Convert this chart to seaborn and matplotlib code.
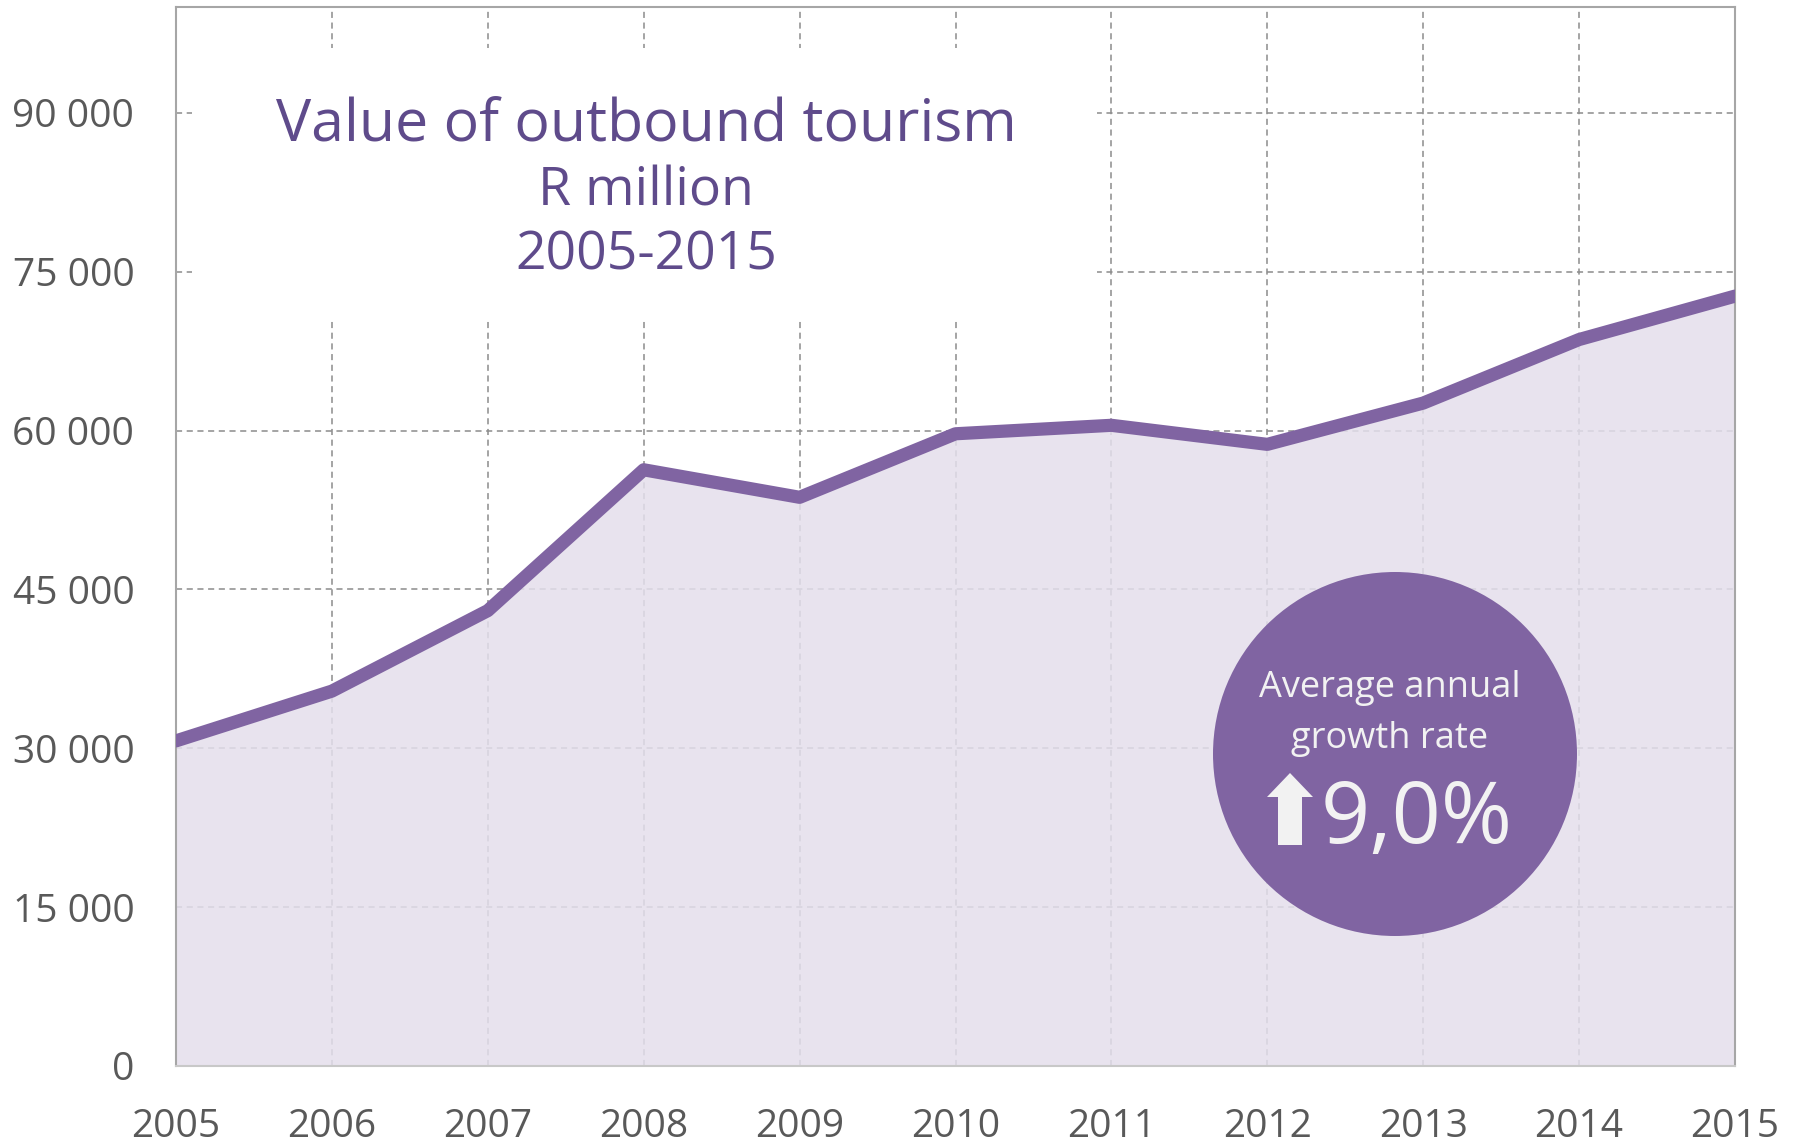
import pandas as pd
import numpy as np
import matplotlib.pyplot as plt
import matplotlib.patches as mpatches
import seaborn as sns

years = [2005, 2006, 2007, 2008, 2009, 2010, 2011, 2012, 2013, 2014, 2015]
values = [30700, 35400, 43000, 56300, 53700, 59700, 60500, 58700, 62600, 68600, 72700]
y_ticks = [0, 15000, 30000, 45000, 60000, 75000, 90000]
y_labels = ['0', '15 000', '30 000', '45 000', '60 000', '75 000', '90 000']
title_lines = ['Value of outbound tourism', 'R million', '2005-2015']
badge_text = ['Average annual', 'growth rate']
badge_value = '9,0%'

LINE = '#8064A2'
FILL = '#E4DFEC'
TITLE = '#5F4B8B'
TICK = '#595959'
W, H = 1804, 1146

df = pd.DataFrame({'year': years, 'value': values})

sns.set_style("white")
plt.rcParams['font.family'] = ['Open Sans', 'DejaVu Sans']

fig = plt.figure(figsize=(W / 100, H / 100), dpi=100)
# axes box in pixels: left 176, right 1735, top 7, bottom 1066
ax = fig.add_axes([176 / W, 1 - 1066 / H, (1735 - 176) / W, (1066 - 7) / H])

ax.fill_between(df['year'], df['value'], 0, color=FILL, alpha=0.85, zorder=2, lw=0)
sns.lineplot(data=df, x='year', y='value', ax=ax, color=LINE, lw=9.5, zorder=4)

ax.set_xlim(2005, 2015)
ax.set_ylim(0, 100000)
ax.set_xticks(years)
ax.set_yticks(y_ticks)
ax.set_yticklabels(y_labels)
ax.set_xlabel('')
ax.set_ylabel('')
ax.grid(True, color='#8C8C8C', ls=(0, (4, 3)), lw=1.1, zorder=1)
ax.set_axisbelow(True)
ax.tick_params(length=0, labelsize=28, colors=TICK)
ax.tick_params(axis='x', pad=30)
ax.tick_params(axis='y', pad=30)

for side in ['left', 'top', 'right']:
    ax.spines[side].set_color('#A6A6A6')
    ax.spines[side].set_linewidth(1.5)
ax.spines['bottom'].set_color('#C8C8C8')
ax.spines['bottom'].set_linewidth(1.5)

# white box behind the title hides the gridlines
ax.add_patch(mpatches.Rectangle(((192 - 176) / 1559, (1066 - 320) / 1059), (1097 - 192) / 1559, 272 / 1059,
                                transform=ax.transAxes, facecolor='white', edgecolor='none', zorder=3))
for line, yp, fs in zip(title_lines, [141, 205, 269], [42.5, 38.5, 38.5]):
    fig.text(646 / W, 1 - yp / H, line, ha='center', va='baseline', color=TITLE,
             fontsize=fs, zorder=5)

# growth badge
ax.add_patch(mpatches.Ellipse(((1395 - 176) / 1559, (1066 - 754) / 1059), 364 / 1559, 364 / 1059,
                              transform=ax.transAxes, facecolor=LINE, edgecolor='none', zorder=6))
for line, yp in zip(badge_text, [697, 748]):
    fig.text(1390 / W, 1 - yp / H, line, ha='center', va='baseline', color='#F2F2F2',
             fontsize=26, zorder=7)
# block arrow (pixel outline converted to figure fractions)
arrow_px = [(1278, 845), (1302, 845), (1302, 797), (1313, 797), (1290, 773),
            (1267, 797), (1278, 797)]
ax.add_patch(mpatches.Polygon([(x / W, 1 - y / H) for x, y in arrow_px], closed=True,
                              transform=fig.transFigure, facecolor='#F2F2F2',
                              edgecolor='none', zorder=7))
fig.text(1417 / W, 1 - 843 / H, badge_value, ha='center', va='baseline', color='#F2F2F2',
         fontsize=62, zorder=7)

fig.savefig('out.png', dpi=100)
